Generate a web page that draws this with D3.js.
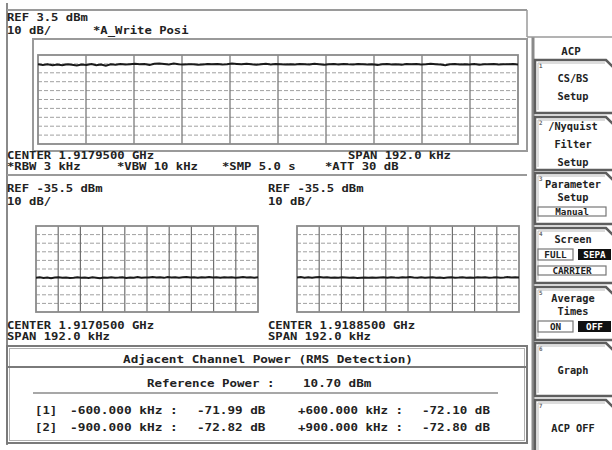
<!DOCTYPE html>
<html><head><meta charset="utf-8">
<script src="https://cdn.jsdelivr.net/npm/d3@7"></script>
<style>
html,body{margin:0;padding:0;background:#fff;}
svg{display:block;}
text{font-family:"DejaVu Sans Mono",monospace;fill:#222;font-weight:bold;}
</style></head>
<body>
<svg id="c" width="612" height="450"></svg>
<script>
// ---------- data ----------
const topRef = 3.5, botRef = -35.5, dbPerDiv = 10;
const spanKHz = 192.0;
const topTrace = [-7.0,-7.6,-6.8,-7.9,-7.2,-8.1,-6.9,-7.5,-8.4,-7.1,-7.8,-6.7,-8.0,-7.3,-8.6,-7.0,-7.4,-6.6,-7.2,-6.8,
 -6.3,-7.0,-6.5,-7.6,-6.4,-6.0,-6.6,-7.1,-6.2,-6.9,-7.3,-6.8,-7.0,-7.4,-7.1,-6.7,-6.9,-6.5,-7.2,-6.8,
 -6.1,-6.6,-7.0,-6.4,-6.9,-7.5,-6.8,-6.3,-7.1,-6.7,-7.0,-7.3,-6.9,-7.2,-6.6,-6.8,-7.1,-6.4,-6.9,-7.4,
 -7.0,-6.7,-7.2,-6.5,-6.9,-7.1,-6.6,-7.0,-7.3,-6.8,-7.6,-6.9,-6.6,-7.1,-6.8,-7.4,-6.7,-7.0,-6.5,-7.2,
 -6.9,-6.3,-6.8,-7.3,-7.9,-7.0,-6.6,-7.2,-6.8,-7.1,-6.7,-7.4,-6.9,-7.0,-6.6,-7.2,-6.8,-7.0,-6.7,-7.1];
const lowTrace = [-95.6,-95.2,-95.9,-95.4,-96.1,-95.5,-95.0,-95.8,-95.3,-96.0,-95.6,-95.1,-95.7,-95.4,-95.9,-95.2,-95.6,-96.2,-95.3,-95.7,
 -95.1,-95.8,-95.5,-95.0,-95.9,-95.4,-95.6,-94.9,-95.7,-95.3,-95.5,-94.8,-95.4,-95.1,-95.8,-94.9,-95.3,-95.0,-95.6,-95.2,
 -94.8,-95.4,-95.1,-95.7,-95.0,-95.3,-94.9,-95.5,-95.2,-95.6,-95.0,-95.4,-95.1,-95.7,-95.3,-94.9,-95.5,-95.2,-95.8,-95.1];
const upTrace = [-95.3,-94.9,-95.6,-95.1,-95.8,-95.2,-94.8,-95.5,-95.0,-95.7,-95.3,-95.6,-95.1,-95.4,-95.8,-95.5,-95.9,-95.6,-95.3,-95.7,
 -95.4,-95.8,-95.5,-95.2,-95.6,-95.0,-95.4,-95.7,-95.1,-95.5,-94.9,-95.3,-95.6,-95.2,-95.8,-95.4,-95.1,-95.6,-95.3,-95.9,
 -95.5,-95.2,-95.7,-95.4,-95.0,-95.6,-95.3,-95.8,-95.1,-95.5,-95.2,-95.7,-95.4,-95.0,-95.6,-95.3,-94.9,-95.5,-95.2,-95.4];
const hdrTop = ["REF 3.5 dBm", "10 dB/", "*A_Write Posi"];
const hdrMid = ["CENTER 1.9179500 GHz", "SPAN 192.0 kHz", "*RBW 3 kHz", "*VBW 10 kHz", "*SMP 5.0 s", "*ATT 30 dB"];
const lowLabels = ["REF -35.5 dBm", "10 dB/", "CENTER 1.9170500 GHz", "SPAN 192.0 kHz"];
const upLabels = ["REF -35.5 dBm", "10 dB/", "CENTER 1.9188500 GHz", "SPAN 192.0 kHz"];
const acpTitle = "Adjacent Channel Power (RMS Detection)";
const refPower = ["Reference Power :", "10.70 dBm"];
const acpIdx = ["[1]", "[2]"];
const acpLowFreq = ["-600.000 kHz :", "-900.000 kHz :"];
const acpLowVal = ["-71.99 dB", "-72.82 dB"];
const acpUpFreq = ["+600.000 kHz :", "+900.000 kHz :"];
const acpUpVal = ["-72.10 dB", "-72.80 dB"];
const menuTitle = "ACP";
const softkeys = [
  {n:"1", lines:["CS/BS","Setup"]},
  {n:"2", lines:["/Nyquist","Filter","Setup"]},
  {n:"3", lines:["Parameter","Setup"], bar:["Manual"]},
  {n:"4", lines:["Screen"], toggle:["FULL","SEPA"], bar:["CARRIER"]},
  {n:"5", lines:["Average","Times"], toggle:["ON","OFF"]},
  {n:"6", lines:["Graph"]},
  {n:"7", lines:["ACP OFF"]}
];

// ---------- drawing ----------
const svg = d3.select("#c");
const CW = 7.35;
function txt(g, s, x, y, opt={}) {
  const t = g.append("text").attr("x", x).attr("y", y).text(s)
    .attr("font-size", opt.fs || 10.5);
  const cw = opt.cw || CW;
  t.attr("textLength", s.length * cw).attr("lengthAdjust", "spacingAndGlyphs");
  if (opt.anchor) t.attr("text-anchor", opt.anchor);
  if (opt.fill) t.style("fill", opt.fill);
  if (opt.weight) t.style("font-weight", opt.weight);
  return t;
}
function line(x1,y1,x2,y2,c="#8a8a8a",w=1.5,dash=null){
  const l = svg.append("line").attr("x1",x1).attr("y1",y1).attr("x2",x2).attr("y2",y2)
    .attr("stroke",c).attr("stroke-width",w);
  if (dash) l.attr("stroke-dasharray",dash);
  return l;
}

// outer frame
line(7,3,7,445,"#8a8a8a",2);
line(7,10,527,10,"#9a9a9a",2);
line(527,10,527,37,"#9a9a9a",1.5);
// top inner box
svg.append("rect").attr("x",33).attr("y",39).attr("width",494).attr("height",112)
  .attr("fill","none").attr("stroke","#9a9a9a").attr("stroke-width",2);
// separator below header
line(7,175,527,175,"#9a9a9a",2.2);

function grid(x0,y0,w,h,ref,data){
  const xs = d3.scaleLinear().domain([-spanKHz/2, spanKHz/2]).range([x0, x0+w]);
  const ys = d3.scaleLinear().domain([ref-10*dbPerDiv, ref]).range([y0+h, y0]);
  const g = svg.append("g");
  const xt = d3.range(1,10).map(i => -spanKHz/2 + i*spanKHz/10);
  const yt = d3.range(1,10).map(i => ref - i*dbPerDiv);
  g.selectAll(".h").data(yt).join("line")
    .attr("x1",x0).attr("x2",x0+w).attr("y1",d=>ys(d)).attr("y2",d=>ys(d))
    .attr("stroke","#a0a0a0").attr("stroke-width",1).attr("stroke-dasharray","4,2");
  g.selectAll(".v").data(xt).join("line")
    .attr("x1",d=>xs(d)).attr("x2",d=>xs(d)).attr("y1",y0).attr("y2",y0+h)
    .attr("stroke","#707070").attr("stroke-width",1.2);
  g.append("rect").attr("x",x0).attr("y",y0).attr("width",w).attr("height",h)
    .attr("fill","none").attr("stroke","#8a8a8a").attr("stroke-width",1.8);
  const fx = d3.scaleLinear().domain([0,data.length-1]).range([-spanKHz/2, spanKHz/2]);
  g.append("path").datum(data)
    .attr("d", d3.line().x((d,i)=>xs(fx(i))).y(d=>ys(d)))
    .attr("fill","none").attr("stroke","#1a1a1a").attr("stroke-width",2);
}
grid(38,55,480,89,topRef,topTrace);
grid(36,226,222,86,botRef,lowTrace);
grid(297,226,222,86,botRef,upTrace);

// header texts
txt(svg,hdrTop[0],7,21);
txt(svg,hdrTop[1],7,34);
txt(svg,hdrTop[2],93,34);
txt(svg,hdrMid[0],7,159);
txt(svg,hdrMid[1],348,159);
txt(svg,hdrMid[2],7,170);
txt(svg,hdrMid[3],117,170);
txt(svg,hdrMid[4],222,170);
txt(svg,hdrMid[5],325,170);
txt(svg,lowLabels[0],7,192); txt(svg,lowLabels[1],7,205);
txt(svg,lowLabels[2],7,329); txt(svg,lowLabels[3],7,340);
txt(svg,upLabels[0],268,192); txt(svg,upLabels[1],268,205);
txt(svg,upLabels[2],268,329); txt(svg,upLabels[3],268,340);

// ACP table
svg.append("rect").attr("x",7).attr("y",346).attr("width",520).attr("height",97)
  .attr("fill","none").attr("stroke","#7a7a7a").attr("stroke-width",2);
svg.append("rect").attr("x",9.5).attr("y",348.5).attr("width",515).attr("height",92)
  .attr("fill","none").attr("stroke","#b0b0b0").attr("stroke-width",1);
line(7,367,527,367,"#7a7a7a",2);
txt(svg,acpTitle,123,363,{cw:7.63});
txt(svg,refPower[0],147,387,{cw:7.5});
txt(svg,refPower[1],303,387,{cw:7.6});
line(33,393,498,393,"#8a8a8a",1.5);
[0,1].forEach(i=>{
  const y = 414 + i*17;
  txt(svg,acpIdx[i],35,y,{cw:7.4});
  txt(svg,acpLowFreq[i],70,y,{cw:7.7});
  txt(svg,acpLowVal[i],197,y,{cw:7.6});
  txt(svg,acpUpFreq[i],298,y,{cw:7.5});
  txt(svg,acpUpVal[i],422,y,{cw:7.55});
});

// softkeys
line(533,37,533,450,"#8a8a8a",3);
line(527,37,612,37,"#9a9a9a",1.5);
txt(svg,menuTitle,571,55,{anchor:"middle",cw:6.5});
const keyY = [[60,113],[117,170],[173,224],[228,283],[287,340],[343,396],[400,455]];
softkeys.forEach((k,i)=>{
  const [y0,y1] = keyY[i];
  const g = svg.append("g");
  const x0 = 535, x1 = 614;
  g.append("path").attr("d",`M${x0},${y1} L${x0},${y0} L${x1-8},${y0} L${x1},${y0+8} L${x1},${y1} Z`)
    .attr("fill","#fff").attr("stroke","#5e5e5e").attr("stroke-width",2.5);
  g.append("path").attr("d",`M${x0+3},${y1-3} L${x0+3},${y0+3} L${x1-9},${y0+3}`)
    .attr("fill","none").attr("stroke","#bbb").attr("stroke-width",1);
  txt(g,k.n,539,y0+8,{fs:6,cw:3.5,fill:"#666"});
  const cx = 573;
  let ly;
  const n = k.lines.length;
  const extra = (k.toggle?1:0) + (k.bar?1:0);
  if (!extra) {
    const mid = (y0+y1)/2;
    k.lines.forEach((s,j)=>{
      txt(g,s,cx,mid + (j-(n-1)/2)*18 + 4,{anchor:"middle",cw:6.2,fs:10});
    });
  } else {
    k.lines.forEach((s,j)=>{
      txt(g,s,cx,y0+15+j*13,{anchor:"middle",cw:6.2,fs:10});
    });
    ly = y0 + 15 + (n-1)*13;
    if (k.toggle) {
      const ty = ly + 6;
      g.append("rect").attr("x",538).attr("y",ty).attr("width",35).attr("height",11)
        .attr("fill","#fff").attr("stroke","#777").attr("stroke-width",1.2);
      g.append("rect").attr("x",578).attr("y",ty).attr("width",33).attr("height",11)
        .attr("fill","#111");
      txt(g,k.toggle[0],555.5,ty+9,{anchor:"middle",cw:5.6,fs:9});
      txt(g,k.toggle[1],594.5,ty+9,{anchor:"middle",cw:5.6,fs:9,fill:"#fff"});
      ly = ty + 11;
    }
    if (k.bar) {
      const by = ly + 6;
      g.append("rect").attr("x",538).attr("y",by).attr("width",68).attr("height",9)
        .attr("fill","#fff").attr("stroke","#777").attr("stroke-width",1.2);
      txt(g,k.bar[0],572,by+8,{anchor:"middle",cw:5.6,fs:8.5});
    }
  }
});
</script>
</body></html>
